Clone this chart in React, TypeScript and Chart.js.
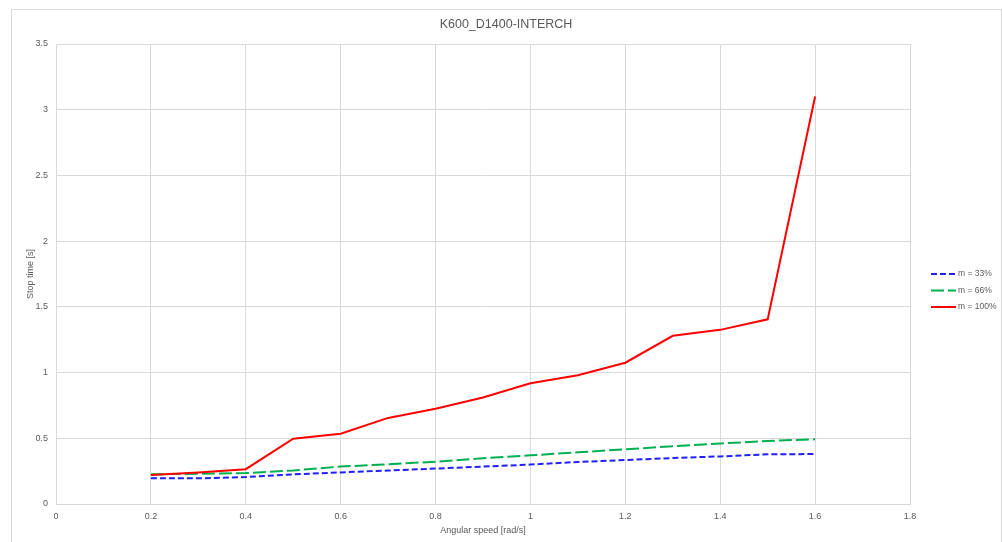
import React, { useEffect, useRef } from "react";
import { Chart, registerables } from "chart.js";

Chart.register(...registerables);

const chartTitle = "K600_D1400-INTERCH";
const xAxisTitle = "Angular speed [rad/s]";
const yAxisTitle = "Stop time [s]";

const speeds = [0.2, 0.3, 0.4, 0.5, 0.6, 0.7, 0.8, 0.9, 1.0, 1.1, 1.2, 1.3, 1.4, 1.5, 1.6];
const seriesLabels = ["m = 33%", "m = 66%", "m = 100%"];
const stop33 = [0.195, 0.195, 0.205, 0.225, 0.24, 0.255, 0.27, 0.285, 0.3, 0.32, 0.335, 0.35, 0.362, 0.378, 0.38];
const stop66 = [0.226, 0.23, 0.235, 0.255, 0.285, 0.302, 0.322, 0.348, 0.37, 0.393, 0.416, 0.44, 0.46, 0.48, 0.492];
const stop100 = [0.22, 0.24, 0.265, 0.497, 0.535, 0.655, 0.725, 0.81, 0.918, 0.98, 1.075, 1.28, 1.325, 1.405, 3.1];

const FONT = "'Liberation Sans', Arial, sans-serif";
const TEXT = "#595959";
const GRID = "#d9d9d9";

const fmt = (v: any) => String(Number(Number(v).toFixed(3)));

const sideLegend = {
  id: "sideLegend",
  afterDraw(chart: any) {
    const { ctx, chartArea } = chart;
    const x0 = chartArea.right + 21;
    const y0 = 274;
    ctx.save();
    chart.data.datasets.forEach((ds: any, i: number) => {
      const y = y0 + i * 16.5;
      ctx.beginPath();
      ctx.strokeStyle = ds.borderColor;
      ctx.lineWidth = ds.borderWidth;
      ctx.setLineDash(ds.borderDash || []);
      ctx.moveTo(x0, y);
      ctx.lineTo(x0 + 25, y);
      ctx.stroke();
      ctx.setLineDash([]);
      ctx.fillStyle = TEXT;
      ctx.font = `8.5px ${FONT}`;
      ctx.textBaseline = "middle";
      ctx.textAlign = "left";
      ctx.fillText(ds.label, x0 + 27, y);
    });
    ctx.restore();
  },
};

export default function App() {
  const ref = useRef<HTMLCanvasElement>(null);

  useEffect(() => {
    if (!ref.current) return;
    const mk = (vals: number[]) => speeds.map((x, i) => ({ x, y: vals[i] }));
    const chart = new Chart(ref.current, {
      type: "line",
      data: {
        datasets: [
          {
            label: seriesLabels[0],
            data: mk(stop33),
            borderColor: "#1f1fff",
            borderWidth: 2,
            borderDash: [6, 3],
            pointRadius: 0,
            tension: 0,
            order: 3,
          },
          {
            label: seriesLabels[1],
            data: mk(stop66),
            borderColor: "#00b050",
            borderWidth: 2,
            borderDash: [13, 4],
            pointRadius: 0,
            tension: 0,
            order: 2,
          },
          {
            label: seriesLabels[2],
            data: mk(stop100),
            borderColor: "#ff0000",
            borderWidth: 2,
            pointRadius: 0,
            tension: 0,
            order: 1,
          },
        ],
      },
      options: {
        responsive: false,
        animation: false,
        layout: { padding: { left: 12, right: 2, top: 0, bottom: 0 } },
        plugins: {
          legend: { display: false },
          tooltip: { enabled: false },
          title: {
            display: true,
            text: chartTitle,
            color: TEXT,
            font: { family: FONT, size: 12.5, weight: "normal" },
            padding: { top: 17.5, bottom: 11.5 },
          },
        },
        scales: {
          x: {
            type: "linear",
            min: 0,
            max: 1.8,
            ticks: {
              stepSize: 0.2,
              color: TEXT,
              font: { family: FONT, size: 9 },
              padding: 7,
              maxRotation: 0,
              callback: fmt,
            },
            grid: { color: GRID, lineWidth: 1, drawTicks: false },
            border: { color: GRID },
            title: {
              display: true,
              text: xAxisTitle,
              color: TEXT,
              font: { family: FONT, size: 9 },
              padding: { top: 0, bottom: 5.6 },
            },
            afterFit: (s: any) => {
              s.height = 38;
            },
          },
          y: {
            type: "linear",
            min: 0,
            max: 3.5,
            ticks: {
              stepSize: 0.5,
              color: TEXT,
              font: { family: FONT, size: 9 },
              padding: 8,
              callback: fmt,
            },
            grid: { color: GRID, lineWidth: 1, drawTicks: false },
            border: { color: GRID },
            title: {
              display: true,
              text: yAxisTitle,
              color: TEXT,
              font: { family: FONT, size: 9 },
              padding: { top: 13, bottom: 0 },
            },
            afterFit: (s: any) => {
              s.width = 44;
            },
          },
          legendSpace: {
            type: "linear",
            position: "right",
            display: true,
            ticks: { display: false },
            grid: { display: false, drawTicks: false },
            border: { display: false },
            afterFit: (s: any) => {
              s.width = 90;
            },
          },
        },
      },
      plugins: [sideLegend],
    } as any);
    return () => chart.destroy();
  }, []);

  return (
    <div style={{ position: "fixed", left: 0, top: 0, width: 1002, height: 542, background: "#fff", overflow: "hidden" }}>
      <div
        style={{
          position: "absolute",
          left: 11,
          top: 9,
          width: 989,
          height: 545,
          border: `1px solid ${GRID}`,
        }}
      />
      <canvas ref={ref} width={1002} height={542} style={{ position: "absolute", left: 0, top: 0 }} />
    </div>
  );
}
